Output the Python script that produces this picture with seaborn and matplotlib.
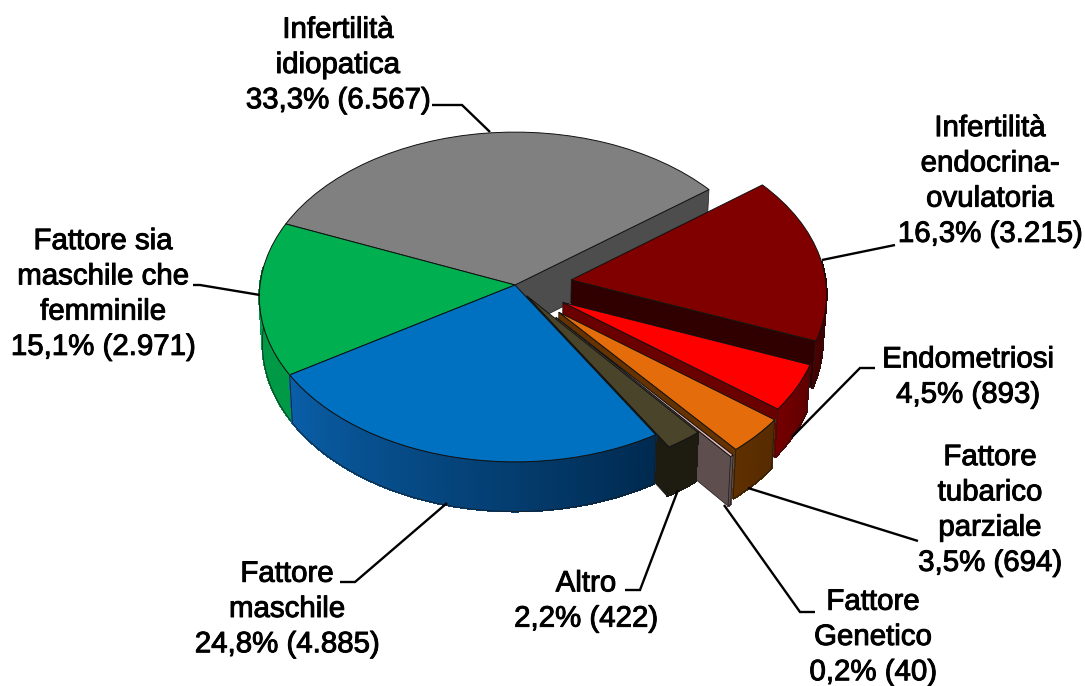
import numpy as np
import matplotlib
matplotlib.use("Agg")
import matplotlib.pyplot as plt
import matplotlib.patheffects as pe
from matplotlib.colors import to_rgb
from matplotlib.transforms import Transform
import seaborn as sns

# ---- data (order: clockwise from the grey slice) ----
categories = ["Infertilità\nidiopatica", "Infertilità\nendocrina-\novulatoria", "Endometriosi",
              "Fattore\ntubarico\nparziale", "Fattore\nGenetico", "Altro",
              "Fattore\nmaschile", "Fattore sia\nmaschile che\nfemminile"]
counts = [6567, 3215, 893, 694, 40, 422, 4885, 2971]
percent_text = ["33,3%", "16,3%", "4,5%", "3,5%", "0,2%", "2,2%", "24,8%", "15,1%"]
count_text = ["6.567", "3.215", "893", "694", "40", "422", "4.885", "2.971"]

# ---- styling ----
explode = [0, 0.223, 0.214, 0.236, 0.25, 0.08, 0, 0]
top_colors = ["#808080", "#800000", "#ff0000", "#e46c0a", "#e6b9b8", "#4a452a", "#0070c0", "#00b050"]
radial_colors = ["#4d4d4d", "#300000", "#6b0000", "#653200", "#5f4e4e", "#1e1c10", "#00315a", "#009a46"]
wall_left = ["#4d4d4d", "#4a0000", "#750000", "#5f3000", "#5f4e4e", "#1e1c10", "#0a5fa8", "#009a46"]
wall_right = ["#4d4d4d", "#3a0000", "#600000", "#572a00", "#5f4e4e", "#1e1c10", "#002a50", "#009a46"]
label_xy = [(338, 65), (990, 181), (968, 377), (990, 510), (873, 637), (586, 601), (287, 609), (103, 294)]
leaders = [[(490, 132), (462, 105), (432, 105)],
           [(822, 260), (895, 245)],
           [(792, 437), (860, 368), (875, 368)],
           [(748, 488), (918, 541)],
           [(724, 505), (800, 612), (815, 612)],
           [(678, 490), (640, 590), (625, 590)],
           [(447, 503), (355, 582), (340, 582)],
           [(260, 295), (200, 285), (193, 285)]]

sns.set_theme(style="white")
plt.rcParams["font.family"] = ["Liberation Sans", "DejaVu Sans"]

CX, CY, RX, RY, K, DEPTH = 515.0, 285.0, 255.0, 164.0, 0.0727, 46.0


def project(u, v, drop=0.0):
    u, v = np.asarray(u, float), np.asarray(v, float)
    w = 1 + K * v
    x = RX * u / w
    y = CY - RY * v / w + drop * DEPTH / w
    return CX + x * (1 - 0.012 * drop), y


class Perspective(Transform):
    input_dims = output_dims = 2
    is_separable = False
    has_inverse = False

    def transform_non_affine(self, values):
        values = np.asarray(values, float)
        x, y = project(values[:, 0], values[:, 1])
        return np.column_stack([x, y])


fig = plt.figure(figsize=(10.85, 6.86), dpi=100, facecolor="white")
ax = fig.add_axes([0, 0, 1, 1])
wedges, _ = ax.pie(counts, explode=explode, startangle=157.5, counterclock=False,
                   colors=top_colors, wedgeprops=dict(edgecolor="#111111", linewidth=0.7))
ax.set_aspect("auto")
ax.set_autoscale_on(False)
ax.set_xlim(0, 1085)
ax.set_ylim(686, 0)
ax.axis("off")

persp = Perspective() + ax.transData
EDGE = dict(edgecolor="#1a1a1a", linewidth=0.5)
paint_order = [0, 7, 1, 2, 3, 4, 5, 6]
z = 2
for i in paint_order:
    wd = wedges[i]
    lo, hi = wd.theta1, wd.theta2
    cu, cv = wd.center
    # radial faces seen from the viewer
    for th in (lo, hi):
        c = np.cos(np.radians(th))
        if (th == lo and c > 0) or (th == hi and c < 0):
            pu = cu + c
            pv = cv + np.sin(np.radians(th))
            x0, y0 = project(cu, cv)
            x1, y1 = project(pu, pv)
            x2, y2 = project(pu, pv, 1)
            x3, y3 = project(cu, cv, 1)
            ax.fill([x0, x1, x2, x3], [y0, y1, y2, y3], facecolor=radial_colors[i], zorder=z, **EDGE)
            z += 1
    # outer wall with a left-to-right shading
    ths = np.linspace(lo, hi, max(int(hi - lo) * 2, 2) + 1)
    ths = ths[np.sin(np.radians(ths)) < 0.12]
    if len(ths) > 1:
        us = cu + np.cos(np.radians(ths))
        vs = cv + np.sin(np.radians(ths))
        xt, yt = project(us, vs)
        xb, yb = project(us, vs, 1)
        cl, cr = np.array(to_rgb(wall_left[i])), np.array(to_rgb(wall_right[i]))
        for j in range(len(ths) - 1):
            f = j / max(len(ths) - 2, 1)
            col = cl * (1 - f) + cr * f
            ax.fill([xt[j], xt[j + 1], xb[j + 1], xb[j]], [yt[j], yt[j + 1], yb[j + 1], yb[j]],
                    facecolor=col, edgecolor=col, linewidth=0.8, antialiased=False, zorder=z)
        z += 1
        ax.fill(np.r_[xt, xb[::-1]], np.r_[yt, yb[::-1]], facecolor="none", zorder=z, **EDGE)
        z += 1
    wd.set_transform(persp)
    wd.set_zorder(z)
    wd.set_clip_on(False)
    z += 1

for pts in leaders:
    xs, ys = zip(*pts)
    ax.plot(xs, ys, color="#000000", lw=1.7, solid_capstyle="butt", solid_joinstyle="miter", zorder=z)

for name, pct, cnt, (x, y) in zip(categories, percent_text, count_text, label_xy):
    ax.text(x, y, f"{name}\n{pct} ({cnt})", ha="center", va="center", ma="center",
            fontsize=21.2, color="#000000", linespacing=1.33, zorder=z + 1,
            path_effects=[pe.withStroke(linewidth=0.7, foreground="#000000")])

fig.savefig("out.png", dpi=100, facecolor="white")
